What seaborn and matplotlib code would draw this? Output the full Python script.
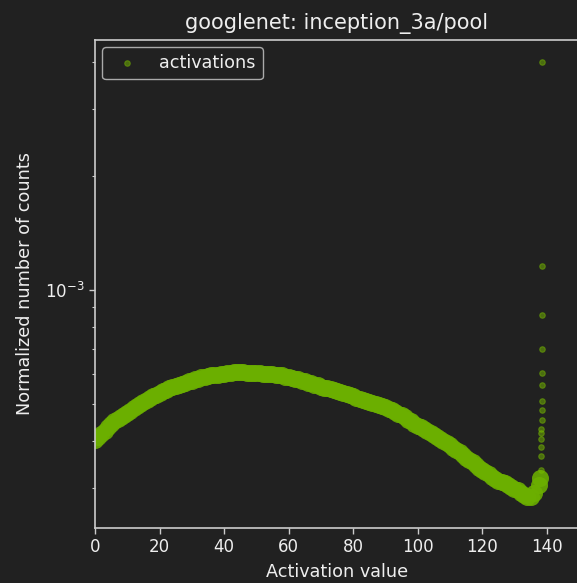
import matplotlib
matplotlib.use("Agg")
import matplotlib.pyplot as plt
import numpy as np
import pandas as pd
import seaborn as sns
from matplotlib.ticker import NullFormatter, FixedLocator

# ---------------- data ----------------
title = "googlenet: inception_3a/pool"
x_label = "Activation value"
y_label = "Normalized number of counts"
series_label = "activations"
x_ticks = [0, 20, 40, 60, 80, 100, 120, 140]

# main band: activation value -> normalized counts (in units of 1e-4)
band_x = list(range(0, 137)) + [137.5, 138]
band_y_e4 = [
    4.02, 4.09, 4.17, 4.25, 4.35, 4.43, 4.50, 4.57, 4.62, 4.68,   # 0-9
    4.74, 4.79, 4.87, 4.94, 5.00, 5.06, 5.13, 5.19, 5.24, 5.28,   # 10-19
    5.35, 5.40, 5.45, 5.50, 5.55, 5.58, 5.61, 5.65, 5.70, 5.74,   # 20-29
    5.77, 5.81, 5.84, 5.88, 5.89, 5.93, 5.95, 5.97, 5.98, 6.00,   # 30-39
    6.02, 6.04, 6.05, 6.06, 6.06, 6.06, 6.06, 6.05, 6.05, 6.04,   # 40-49
    6.04, 6.03, 6.02, 6.01, 6.00, 6.00, 5.98, 5.97, 5.95, 5.91,   # 50-59
    5.89, 5.86, 5.84, 5.81, 5.77, 5.74, 5.70, 5.67, 5.63, 5.60,   # 60-69
    5.56, 5.53, 5.51, 5.48, 5.45, 5.41, 5.38, 5.35, 5.32, 5.28,   # 70-79
    5.25, 5.20, 5.17, 5.14, 5.11, 5.06, 5.03, 5.00, 4.97, 4.93,   # 80-89
    4.90, 4.85, 4.81, 4.77, 4.72, 4.67, 4.61, 4.55, 4.50, 4.44,   # 90-99
    4.39, 4.34, 4.30, 4.25, 4.20, 4.14, 4.09, 4.05, 4.00, 3.95,   # 100-109
    3.90, 3.84, 3.78, 3.73, 3.67, 3.61, 3.56, 3.51, 3.45, 3.40,   # 110-119
    3.35, 3.30, 3.26, 3.22, 3.18, 3.14, 3.12, 3.09, 3.06, 3.02,   # 120-129
    2.99, 2.96, 2.92, 2.88, 2.84, 2.84, 2.91,                     # 130-136
    3.06, 3.19,                                                   # 137.5, 138
]

# sparse tail of isolated points at the top of the range
tail_x = [138.1, 138.2, 138.2, 138.3, 138.3, 138.3, 138.4, 138.4,
          138.4, 138.4, 138.5, 138.5, 138.6, 138.6]
tail_y_e4 = [3.35, 3.65, 3.86, 4.04, 4.19, 4.31, 4.54, 4.82,
             5.10, 5.61, 6.05, 6.99, 8.57, 11.55]
peak_x = [138.6]
peak_y_e4 = [40.1]

# ---------------- style ----------------
BG = "#212121"
FG = "#eeeeee"
SPINE = "#cccccc"
GREEN = "#76b900"
BAND_GREEN = "#6cb000"

sns.set_style("dark", rc={
    "axes.facecolor": BG,
    "figure.facecolor": BG,
    "axes.edgecolor": SPINE,
    "axes.labelcolor": FG,
    "text.color": FG,
    "xtick.color": SPINE,
    "ytick.color": SPINE,
    "axes.grid": False,
    "xtick.bottom": True,
    "ytick.left": True,
})
plt.rcParams["font.family"] = ["DejaVu Sans"]

fig = plt.figure(figsize=(5.77, 5.83), dpi=100)
ax = fig.add_axes([95 / 577, 55 / 583, 484 / 577, 488 / 583])

band = pd.DataFrame({"x": band_x, "y": np.array(band_y_e4) * 1e-4})
tail = pd.DataFrame({"x": tail_x + peak_x,
                     "y": np.array(tail_y_e4 + peak_y_e4) * 1e-4})

sns.scatterplot(data=band, x="x", y="y", ax=ax, color=BAND_GREEN, alpha=0.88,
                s=150, linewidth=0, legend=False)
sns.scatterplot(data=tail, x="x", y="y", ax=ax, color=GREEN, alpha=0.5,
                s=16, linewidth=0.8, edgecolor=GREEN, label=series_label)

ax.set_yscale("log")
ax.set_xlim(0, 150)
ax.set_ylim(2.355e-4, 4.57e-3)
ax.xaxis.set_major_locator(FixedLocator(x_ticks))
ax.yaxis.set_minor_formatter(NullFormatter())

ax.tick_params(axis="both", which="major", labelsize=12, labelcolor=FG,
               direction="out", length=4, width=1)
ax.tick_params(axis="y", which="minor", direction="out", length=2.5,
               width=0.8, left=True)
for side in ["left", "bottom", "top", "right"]:
    ax.spines[side].set_color(SPINE)
    ax.spines[side].set_linewidth(1.2)

ax.set_title(title, fontsize=15, color=FG, pad=8)
ax.set_xlabel(x_label, fontsize=12.7, color=FG, labelpad=5)
ax.set_ylabel(y_label, fontsize=12.7, color=FG, labelpad=8)

leg = ax.legend(loc="upper left", fontsize=12.7, frameon=True, fancybox=True,
                borderpad=0.4, handletextpad=0.85, borderaxespad=0.4)
leg.get_frame().set_facecolor(BG)
leg.get_frame().set_edgecolor("#aaaaaa")
leg.get_frame().set_alpha(1.0)
for t in leg.get_texts():
    t.set_color(FG)

fig.savefig("out.png", dpi=100, facecolor=BG)
